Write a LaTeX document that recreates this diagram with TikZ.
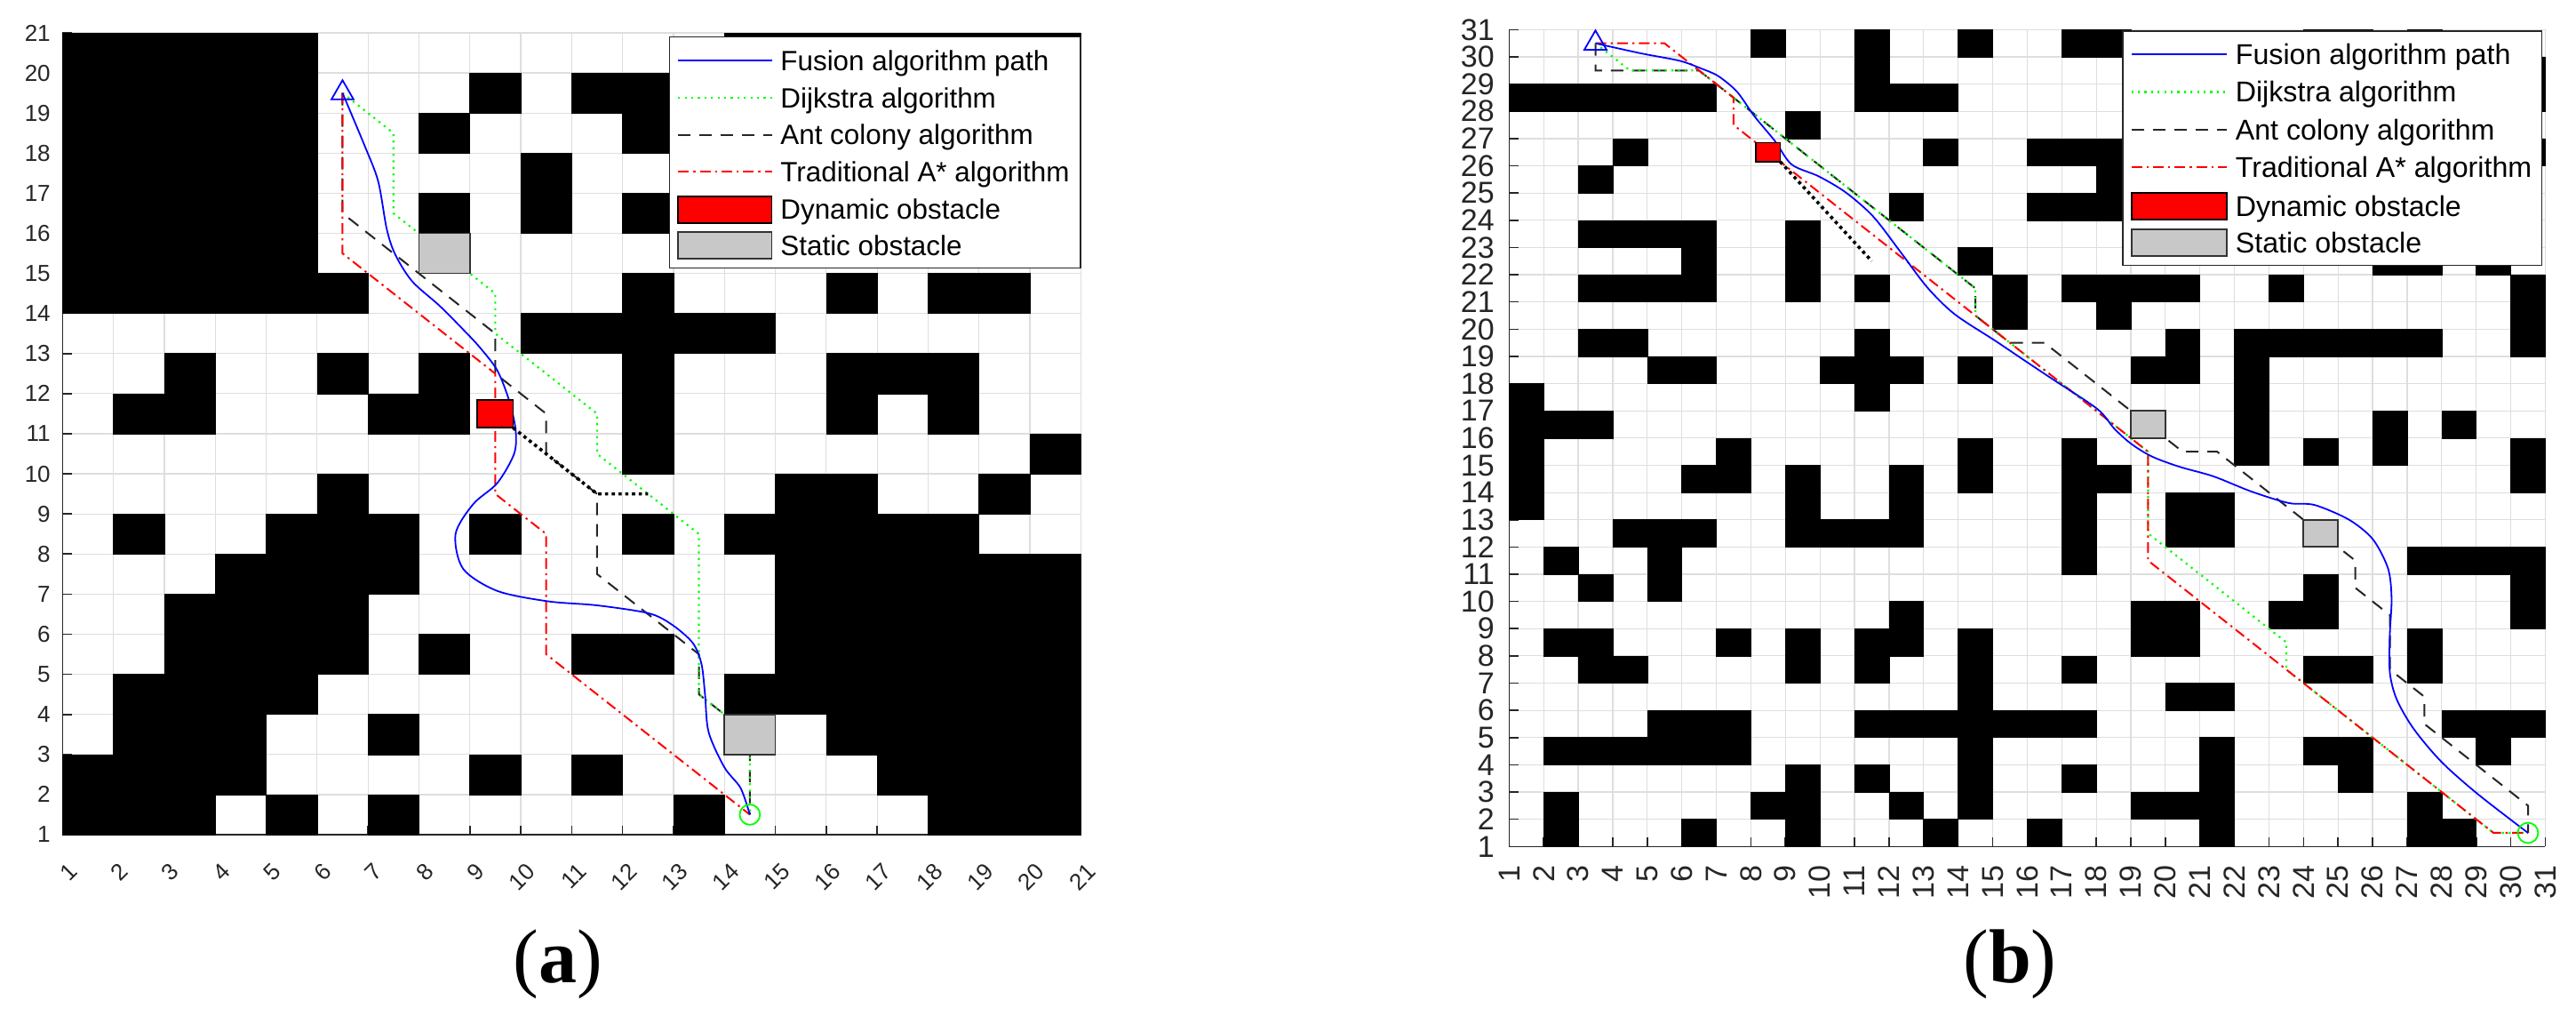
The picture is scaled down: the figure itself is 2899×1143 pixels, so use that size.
\documentclass[tikz,border=0pt]{standalone}
\usepackage{fontspec}
\setmainfont{Liberation Sans}
\newfontfamily\capfont{Liberation Serif}
\usetikzlibrary{shapes.geometric}
\definecolor{gridc}{RGB}{222,222,222}
\definecolor{axc}{RGB}{38,38,38}
\definecolor{obsgray}{RGB}{200,200,200}
\definecolor{pgreen}{RGB}{0,255,0}
\begin{document}
\begin{tikzpicture}[x=0.5pt, y=-0.5pt,
  gridline/.style={draw=gridc, line width=0.6pt},
  axisline/.style={draw=axc, line width=0.8pt},
  blk/.style={fill=black, draw=black, line width=0.3pt},
  statobs/.style={fill=obsgray, draw=black!80, line width=0.9pt},
  dynobs/.style={fill=red, draw=black, line width=0.9pt},
  fusion/.style={draw=blue, line width=0.9pt},
  dijk/.style={draw=pgreen, line width=1.1pt, dash pattern=on 1.1pt off 2.6pt},
  antc/.style={draw=black!85, line width=1pt, dash pattern=on 7pt off 5pt},
  astar/.style={draw=red, line width=1pt, dash pattern=on 6pt off 2.5pt on 1.2pt off 2.5pt},
  trail/.style={draw=black, line width=1.8pt, dash pattern=on 1.8pt off 2pt},
  startmark/.style={draw=blue, line width=0.9pt, regular polygon, regular polygon sides=3, minimum size=14.4pt, inner sep=0pt},
  endmark/.style={draw=pgreen, line width=0.9pt, circle, minimum size=11.4pt, inner sep=0pt},
  tickA/.style={font=\fontsize{13}{14}\selectfont, inner sep=0pt, text=axc},
  tickB/.style={font=\fontsize{17}{18}\selectfont, inner sep=0pt, text=axc},
  legbox/.style={fill=white, draw=axc, line width=0.7pt},
  legA/.style={font=\fontsize{15.7}{17}\selectfont, anchor=base west, inner sep=0pt, text=black},
  legB/.style={font=\fontsize{16.1}{17}\selectfont, anchor=base west, inner sep=0pt, text=black},
  subcap/.style={font=\capfont\fontsize{43}{45}\selectfont, anchor=base, inner sep=0pt}
]
\useasboundingbox (0,0) rectangle (2899,1143);
\fill[white] (0,0) rectangle (2899,1143);

% ================= Panel (a) =================
\begin{scope}[shift={(13.0,984.1)}, x=28.65pt, y=22.55pt]
  \foreach \i in {1,...,21} {
    \draw[gridline] (\i,1) -- (\i,21);
    \draw[gridline] (1,\i) -- (21,\i);
  }
  \draw[axisline] (1,21) -- (1,1) -- (21,1);
  \foreach \i in {1,...,21} {
    \draw[axisline] (\i,1) -- ++(0pt,5.25pt);
    \draw[axisline] (1,\i) -- ++(5.25pt,0pt);
    \node[tickA, rotate=45, anchor=east] (xa\i) at ([xshift=6pt,yshift=-18.5pt]\i,1) {\i};
    \node[tickA, anchor=east] (ya\i) at ([xshift=-6.6pt]1,\i) {\i};
  }
  \foreach \r/\cs in {
    20/{1,2,3,4,5,14,15,16,17,18,19,20},
    19/{1,2,3,4,5,9,11,12},
    18/{1,2,3,4,5,8,12},
    17/{1,2,3,4,5,10},
    16/{1,2,3,4,5,8,10,12},
    15/{1,2,3,4,5},
    14/{1,2,3,4,5,6,12,16,18,19},
    13/{10,11,12,13,14},
    12/{3,6,8,12,16,17,18},
    11/{2,3,7,8,12,16,18},
    10/{12,20},
    9/{6,15,16,19},
    8/{2,5,6,7,9,12,14,15,16,17,18},
    7/{4,5,6,7,15,16,17,18,19,20},
    6/{3,4,5,6,15,16,17,18,19,20},
    5/{3,4,5,6,8,11,12,15,16,17,18,19,20},
    4/{2,3,4,5,14,15,16,17,18,19,20},
    3/{2,3,4,7,16,17,18,19,20},
    2/{1,2,3,4,9,11,17,18,19,20},
    1/{1,2,3,5,7,13,18,19,20}} {
    \foreach \c in \cs { \filldraw[blk] (\c,\r) rectangle ++(1,1); }
  }
  \coordinate (sA) at (6.5,19.5);
  \coordinate (eA) at (14.5,1.5);
  \draw[antc] (sA) -- (6.5,16.5) -- (9.5,13.5) -- (9.5,12.5) -- (10.5,11.5) -- (10.5,10.5) -- (11.5,9.5) -- (11.5,7.5) -- (13.5,5.5) -- (13.5,4.5) -- (14.5,3.5) -- (eA);
  \draw[dijk] (sA) -- (7.5,18.5) -- (7.5,16.5) -- (9.5,14.5) -- (9.5,13.5) -- (11.5,11.5) -- (11.5,10.5) -- (13.5,8.5) -- (13.5,4.5) -- (14.5,3.5) -- (eA);
  \draw[astar] (sA) -- (6.5,15.5) -- (9.5,12.5) -- (9.5,9.5) -- (10.5,8.5) -- (10.5,5.5) -- (eA);
  \draw[fusion] plot[smooth, tension=0.5] coordinates {(6.5,19.5) (6.93,18.2) (7.2,17.3) (7.37,16.1) (7.54,15.46) (7.87,14.8) (8.4,14.2) (8.87,13.6) (9.2,13.15) (9.54,12.58) (9.77,11.84) (9.9,11.1) (9.87,10.5) (9.54,9.77) (9.07,9.25) (8.72,8.5) (8.87,7.63) (9.54,7.08) (10.54,6.82) (11.5,6.72) (12.52,6.52) (12.98,6.23) (13.38,5.78) (13.55,5.26) (13.62,4.5) (13.69,3.56) (14.0,2.68) (14.32,2.16) (14.5,1.5)};
  \draw[trail] (9.85,11.15) -- (11.5,9.5) -- (12.5,9.5);
  \draw[statobs] (8,15) rectangle (9,16);
  \draw[statobs] (14,3) rectangle (15,4);
  \draw[dynobs] (9.15,11.15) rectangle (9.85,11.85);
  \node[startmark] (stA) at (sA) {};
  \node[endmark] (enA) at (eA) {};
\end{scope}

% legend (a)
\draw[legbox] (753.3,41.7) rectangle (1216,301.7);
\draw[fusion] (763.2,68.3) -- (868.5,68.3);
\node[legA] (lgA1) at (878,79.5) {Fusion algorithm path};
\draw[dijk] (763.2,110) -- (868.5,110);
\node[legA] (lgA2) at (878,121.2) {Dijkstra algorithm};
\draw[antc] (763.2,151.7) -- (868.5,151.7);
\node[legA] (lgA3) at (878,162.9) {Ant colony algorithm};
\draw[astar] (763.2,193.4) -- (868.5,193.4);
\node[legA] (lgA4) at (878,204.6) {Traditional A* algorithm};
\draw[dynobs] (763.2,220.7) rectangle (868.5,250.7);
\node[legA] (lgA5) at (878,246.5) {Dynamic obstacle};
\draw[statobs] (763.2,261.3) rectangle (868.5,291.3);
\node[legA] (lgA6) at (878,288) {Static obstacle};

\node[subcap] (capA) at (628,1105.6) {(\textbf{a})};

% ================= Panel (b) =================
\begin{scope}[shift={(1659.43,982.93)}, x=19.435pt, y=15.315pt]
  \foreach \i in {1,...,31} {
    \draw[gridline] (\i,1) -- (\i,31);
    \draw[gridline] (1,\i) -- (31,\i);
  }
  \draw[axisline] (1,31) -- (1,1) -- (31,1);
  \foreach \i in {1,...,31} {
    \draw[axisline] (\i,1) -- ++(0pt,5.25pt);
    \draw[axisline] (1,\i) -- ++(5.25pt,0pt);
    \node[tickB, rotate=90, anchor=east] (xb\i) at ([yshift=-10.5pt]\i,1) {\i};
    \node[tickB, anchor=east] (yb\i) at ([xshift=-8.1pt]1,\i) {\i};
  }
  \foreach \r/\cs in {
    30/{8,11,14,17,18,24,25,27},
    29/{11,30},
    28/{1,2,3,4,5,6,11,12,13,30},
    27/{9},
    26/{4,13,16,17,18,30},
    25/{3,18},
    24/{12,16,17,18},
    23/{3,4,5,6,9},
    22/{6,9,14,26,27,29},
    21/{3,4,5,6,9,11,15,17,18,19,20,23,30},
    20/{15,18,30},
    19/{3,4,11,20,22,23,24,25,26,27,30},
    18/{5,6,10,11,12,14,19,20,22},
    17/{1,11,22},
    16/{1,2,3,22,26,28},
    15/{1,7,14,17,22,24,26,30},
    14/{1,6,7,9,12,14,17,18,30},
    13/{1,9,12,17,20,21},
    12/{4,5,6,9,10,11,12,17,20,21},
    11/{2,5,17,27,28,29,30},
    10/{3,5,24,30},
    9/{12,19,20,23,24,30},
    8/{2,3,7,9,11,12,14,19,20,27},
    7/{3,4,9,11,14,17,24,25,27},
    6/{14,20,21},
    5/{5,6,7,11,12,13,14,15,16,17,28,29,30},
    4/{2,3,4,5,6,7,14,21,24,25,29},
    3/{9,11,14,17,21,25},
    2/{2,8,9,12,14,19,20,21,27},
    1/{2,6,9,13,16,21,27,28}} {
    \foreach \c in \cs { \filldraw[blk] (\c,\r) rectangle ++(1,1); }
  }
  \coordinate (sB) at (3.5,30.5);
  \coordinate (eB) at (30.5,1.5);
  \draw[antc] (sB) -- (3.5,29.5) -- (6.5,29.5) -- (14.5,21.5) -- (14.5,20.5) -- (15.5,19.5) -- (16.5,19.5) -- (20.5,15.5) -- (21.5,15.5) -- (25.5,11.5) -- (25.5,10.5) -- (26.5,9.5) -- (26.5,7.5) -- (27.5,6.5) -- (27.5,5.5) -- (30.5,2.5) -- (eB);
  \draw[dijk] (sB) -- (4.5,29.5) -- (6.5,29.5) -- (14.5,21.5) -- (14.5,20.5) -- (19.5,15.5) -- (19.5,12.5) -- (23.5,8.5) -- (23.5,7.5) -- (29.5,1.5) -- (eB);
  \draw[astar] (sB) -- (5.5,30.5) -- (7.5,28.5) -- (7.5,27.5) -- (19.5,15.5) -- (19.5,11.5) -- (29.5,1.5) -- (eB);
  \draw[fusion] plot[smooth, tension=0.5] coordinates {(3.5,30.5) (4.82,30.13) (5.93,29.86) (6.53,29.59) (7.05,29.3) (7.6,28.72) (8.09,27.84) (8.69,26.92) (9.18,26.05) (9.97,25.61) (10.75,25.02) (11.54,24.14) (12.33,22.84) (13.11,21.53) (13.9,20.55) (15.08,19.57) (15.97,18.81) (16.74,18.16) (18.03,17.07) (18.52,16.35) (19.0,15.8) (19.6,15.33) (20.4,14.95) (21.38,14.6) (22.36,14.1) (23.05,13.8) (23.64,13.6) (24.33,13.54) (25.32,13.0) (26.01,12.28) (26.45,11.2) (26.55,10.1) (26.5,8.8) (26.5,7.39) (26.7,6.4) (27.19,5.32) (28.0,4.1) (29.07,2.9) (30.5,1.5)};
  \draw[trail] (8.85,26.15) -- (11.5,22.5);
  \draw[statobs] (19,16) rectangle (20,17);
  \draw[statobs] (24,12) rectangle (25,13);
  \draw[dynobs] (8.15,26.15) rectangle (8.85,26.85);
  \node[startmark] (stB) at (sB) {};
  \node[endmark] (enB) at (eB) {};
\end{scope}

% legend (b)
\draw[legbox] (2389.1,35) rectangle (2860.6,298.3);
\draw[fusion] (2398.6,61) -- (2505.8,61);
\node[legB] (lgB1) at (2515.4,72.5) {Fusion algorithm path};
\draw[dijk] (2398.6,103.5) -- (2505.8,103.5);
\node[legB] (lgB2) at (2515.4,115) {Dijkstra algorithm};
\draw[antc] (2398.6,146) -- (2505.8,146);
\node[legB] (lgB3) at (2515.4,157.5) {Ant colony algorithm};
\draw[astar] (2398.6,188.5) -- (2505.8,188.5);
\node[legB] (lgB4) at (2515.4,200) {Traditional A* algorithm};
\draw[dynobs] (2398.6,216.7) rectangle (2505.8,246.7);
\node[legB] (lgB5) at (2515.4,243.2) {Dynamic obstacle};
\draw[statobs] (2398.6,257.7) rectangle (2505.8,287.7);
\node[legB] (lgB6) at (2515.4,284.8) {Static obstacle};

\node[subcap] (capB) at (2262,1105.6) {(\textbf{b})};
\end{tikzpicture}
\end{document}
